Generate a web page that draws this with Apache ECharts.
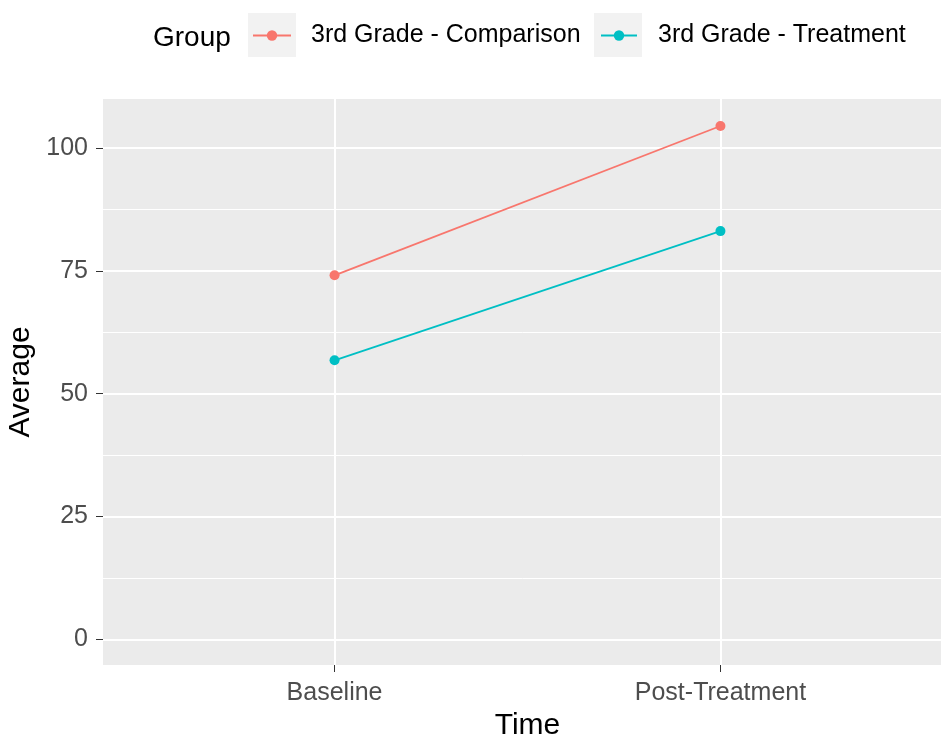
<!DOCTYPE html>
<html><head><meta charset="utf-8">
<script src="https://cdn.jsdelivr.net/npm/echarts@6/dist/echarts.min.js"></script>
<style>html,body{margin:0;padding:0;background:#fff}#c{width:941px;height:740px}</style>
</head><body><div id="c"></div>
<script>
const categories = ['Baseline', 'Post-Treatment'];
const seriesNames = ['3rd Grade - Comparison', '3rd Grade - Treatment'];
const comparison = [74.1, 104.5];
const treatment = [56.8, 83.1];
const yTicks = [0, 25, 50, 75, 100];
const yMinor = [12.5, 37.5, 62.5, 87.5];
const xTicks = [1, 2];
const colors = ['#F8766D', '#00BFC4'];

const FONT = "'Liberation Sans', Arial, sans-serif";
const toPoints = vals => categories.map((c, i) => [i + 1, vals[i]]);

const chart = echarts.init(document.getElementById('c'), null, {renderer: 'canvas'});
const Y_MIN = -5.24, Y_MAX = 110.0;

const option = {
  animation: false,
  backgroundColor: '#ffffff',
  textStyle: {fontFamily: FONT},
  grid: {left: 103, right: -11, top: 99, bottom: 75, show: true, backgroundColor: '#EBEBEB', borderWidth: 0,
         containLabel: false, outerBoundsMode: 'none'},
  xAxis: {
    type: 'value', min: 0.4, max: 2.6,
    axisLine: {show: false, onZero: false},
    axisTick: {show: true, customValues: xTicks, length: 7, lineStyle: {color: '#333333', width: 1}},
    axisLabel: {customValues: xTicks, formatter: v => categories[Math.round(v) - 1], color: '#4D4D4D', fontSize: 25, margin: 16, fontFamily: FONT},
    splitLine: {show: true, lineStyle: {color: '#FFFFFF', width: 2}},
    name: 'Time', nameLocation: 'middle', nameGap: 45,
    nameTextStyle: {fontSize: 30, color: '#000000', fontFamily: FONT}
  },
  yAxis: [{
    type: 'value', min: Y_MIN, max: Y_MAX,
    axisLine: {show: false, onZero: false},
    axisTick: {show: true, customValues: yTicks, length: 7, lineStyle: {color: '#333333', width: 1}},
    axisLabel: {customValues: yTicks, color: '#4D4D4D', fontSize: 25, margin: 15, fontFamily: FONT},
    splitLine: {show: true, lineStyle: {color: '#FFFFFF', width: 2}},
    name: 'Average', nameLocation: 'middle', nameGap: 65,
    nameTextStyle: {fontSize: 30, color: '#000000', fontFamily: FONT},
    z: 3
  }, {
    type: 'value', min: Y_MIN, max: Y_MAX, position: 'left',
    axisLine: {show: false, onZero: false},
    axisTick: {show: false, customValues: yMinor},
    axisLabel: {show: false, customValues: yMinor},
    splitLine: {show: true, lineStyle: {color: '#FFFFFF', width: 1}},
    z: 2
  }],
  legend: [
    {data: [seriesNames[0]], left: 252, top: 23, padding: 0, itemWidth: 38, itemHeight: 13, selectedMode: false,
     textStyle: {fontSize: 25, color: '#000000', fontFamily: FONT, padding: [0, 0, 0, 15]}},
    {data: [seriesNames[1]], left: 600, top: 23, padding: 0, itemWidth: 36, itemHeight: 13, selectedMode: false,
     textStyle: {fontSize: 25, color: '#000000', fontFamily: FONT, padding: [0, 0, 0, 16]}}
  ],
  graphic: [
    {type: 'rect', left: 248, top: 13, shape: {width: 48, height: 44}, style: {fill: '#F2F2F2'}, z: 0},
    {type: 'rect', left: 594, top: 13, shape: {width: 48, height: 44}, style: {fill: '#F2F2F2'}, z: 0},
    {type: 'text', x: 153, y: 38, style: {text: 'Group', fontSize: 28, fontFamily: FONT, fill: '#000000', verticalAlign: 'middle', align: 'left'}, z: 1}
  ],
  series: [
    {name: seriesNames[0], type: 'line', data: toPoints(comparison), xAxisIndex: 0, yAxisIndex: 0,
     symbol: 'circle', symbolSize: 10, color: colors[0], lineStyle: {width: 1.8, color: colors[0]}, itemStyle: {color: colors[0]}, z: 5},
    {name: seriesNames[1], type: 'line', data: toPoints(treatment), xAxisIndex: 0, yAxisIndex: 0,
     symbol: 'circle', symbolSize: 10, color: colors[1], lineStyle: {width: 1.8, color: colors[1]}, itemStyle: {color: colors[1]}, z: 5}
  ]
};
chart.setOption(option);
</script>
</body></html>
